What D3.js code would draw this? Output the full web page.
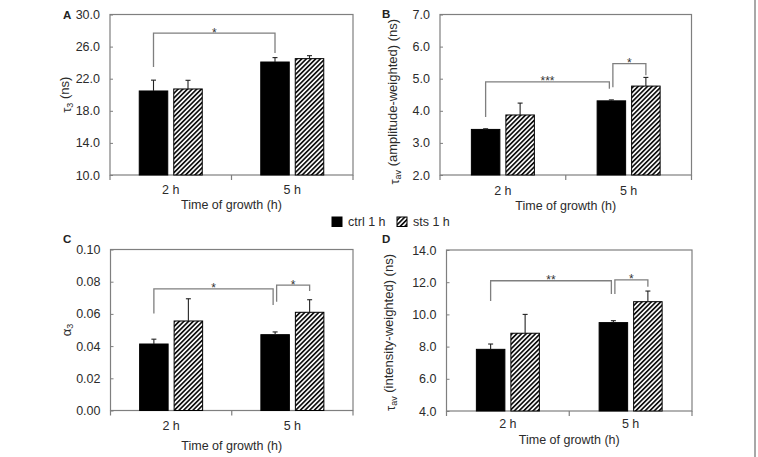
<!DOCTYPE html>
<html>
<head>
<meta charset="utf-8">
<script src="https://cdn.jsdelivr.net/npm/d3@7"></script>
<style>
  html, body { margin: 0; padding: 0; background: #fff; }
  svg { display: block; font-family: "Liberation Sans", Arial, sans-serif; }
</style>
</head>
<body>
<svg id="chart" width="758" height="457"></svg>
<script>
// ---------------- DATA ----------------
const categories = ["2 h", "5 h"];
const seriesNames = ["ctrl 1 h", "sts 1 h"];

// Panel A: tau3 (ns)
const tau3Ctrl = [20.47, 24.08];
const tau3CtrlErr = [1.35, 0.55];
const tau3Sts = [20.72, 24.50];
const tau3StsErr = [1.08, 0.37];
const tau3Ticks = [10, 14, 18, 22, 26, 30];
// [fromCat, fromSeries, toCat, toSeries, leftLegEnd, top, rightLegEnd, label]
const tau3Brackets = [[0, 0, 1, 0, 23.45, 27.68, 25.19, "*"]];

// Panel B: tau_av amplitude-weighted (ns)
const tauAmpCtrl = [3.42, 4.31];
const tauAmpCtrlErr = [0.02, 0.03];
const tauAmpSts = [3.87, 4.77];
const tauAmpStsErr = [0.37, 0.27];
const tauAmpTicks = [2, 3, 4, 5, 6, 7];
const tauAmpBrackets = [[0, 0, 1, 0, 3.81, 4.90, 4.69, "***"], [1, 0, 1, 1, 4.73, 5.47, 5.11, "*"]];

// Panel C: alpha3
const alphaCtrl = [0.0413, 0.0471];
const alphaCtrlErr = [0.0030, 0.0017];
const alphaSts = [0.0556, 0.0610];
const alphaStsErr = [0.0138, 0.0078];
const alphaTicks = [0, 0.02, 0.04, 0.06, 0.08, 0.10];
const alphaBrackets = [[0, 0, 1, 0, 0.0603, 0.0756, 0.0655, "*"], [1, 0, 1, 1, 0.0675, 0.0779, 0.0742, "*"]];

// Panel D: tau_av intensity-weighted (ns)
const tauIntCtrl = [7.83, 9.49];
const tauIntCtrlErr = [0.33, 0.12];
const tauIntSts = [8.83, 10.79];
const tauIntStsErr = [1.17, 0.66];
const tauIntTicks = [4, 6, 8, 10, 12, 14];
const tauIntBrackets = [[0, 0, 1, 0, 10.83, 12.09, 11.27, "**"], [1, 0, 1, 1, 11.27, 12.14, 11.72, "*"]];

const xTitle = "Time of growth (h)";

// ---------------- LAYOUT ----------------
const svg = d3.select("#chart");
const AXIS = "#7f7f7f";
const TEXT = "#2b2b2b";

const defs = svg.append("defs");
const pat = defs.append("pattern")
  .attr("id", "hatch")
  .attr("patternUnits", "userSpaceOnUse")
  .attr("width", 3.3).attr("height", 3.3)
  .attr("patternTransform", "rotate(45)");
pat.append("rect").attr("width", 3.3).attr("height", 3.3).attr("fill", "#fff");
pat.append("rect").attr("x", 0).attr("y", 0).attr("width", 1.7).attr("height", 3.3).attr("fill", "#111");

const panels = [
  { label: "A", ctrl: tau3Ctrl, ctrlErr: tau3CtrlErr, sts: tau3Sts, stsErr: tau3StsErr, ticks: tau3Ticks, brackets: tau3Brackets,
    fmt: ".1f", title: ["τ", "3", " (ns)"],
    x0: 110, x1: 353, y0: 14.5, y1: 175, lx: 63, ly: 19, ytx: 66, yty: 0, tickDy: 19, titleDy: 34 },
  { label: "B", ctrl: tauAmpCtrl, ctrlErr: tauAmpCtrlErr, sts: tauAmpSts, stsErr: tauAmpStsErr, ticks: tauAmpTicks, brackets: tauAmpBrackets,
    fmt: ".1f", title: ["τ", "av", " (amplitude-weighted) (ns)"],
    x0: 440, x1: 691.5, y0: 14.5, y1: 175, lx: 382, ly: 18, ytx: 394, yty: 7, tickDy: 20, titleDy: 35 },
  { label: "C", ctrl: alphaCtrl, ctrlErr: alphaCtrlErr, sts: alphaSts, stsErr: alphaStsErr, ticks: alphaTicks, brackets: alphaBrackets,
    fmt: ".2f", title: ["α", "3", ""],
    x0: 110.5, x1: 353, y0: 249.5, y1: 410.5, lx: 63, ly: 243, ytx: 66, yty: 0, tickDy: 19.5, titleDy: 39.5 },
  { label: "D", ctrl: tauIntCtrl, ctrlErr: tauIntCtrlErr, sts: tauIntSts, stsErr: tauIntStsErr, ticks: tauIntTicks, brackets: tauIntBrackets,
    fmt: ".1f", title: ["τ", "av", " (intensity-weighted) (ns)"],
    x0: 446.5, x1: 692, y0: 250, y1: 411, lx: 382, ly: 243, ytx: 390, yty: 2, tickDy: 17, titleDy: 33 }
];

panels.forEach(p => {
  const g = svg.append("g");
  const x = d3.scaleBand().domain(categories).range([p.x0, p.x1]).padding(0);
  const xi = d3.scaleBand().domain(seriesNames).range([-31.5, 31.5]).paddingInner(6 / 34.5);
  const y = d3.scaleLinear().domain([p.ticks[0], p.ticks[p.ticks.length - 1]]).range([p.y1, p.y0]);

  // y axis with inside ticks
  const ya = g.append("g").attr("transform", `translate(${p.x0},0)`)
    .call(d3.axisLeft(y).tickValues(p.ticks).tickFormat(d3.format(p.fmt)).tickSizeInner(-3).tickSizeOuter(0).tickPadding(10));
  ya.select(".domain").remove();
  ya.selectAll(".tick line").attr("stroke", AXIS);
  ya.selectAll(".tick text").attr("fill", TEXT).attr("font-size", 12.5).attr("font-family", "Liberation Sans, Arial, sans-serif");

  // plot box
  g.append("rect").attr("x", p.x0).attr("y", p.y0).attr("width", p.x1 - p.x0).attr("height", p.y1 - p.y0)
    .attr("fill", "none").attr("stroke", AXIS).attr("stroke-width", 1.2);

  // x ticks at band boundaries
  const bounds = [x(categories[0]), x(categories[1]), x(categories[1]) + x.bandwidth()];
  g.selectAll(".xt").data(bounds).enter().append("line")
    .attr("x1", d => d).attr("x2", d => d).attr("y1", p.y1).attr("y2", p.y1 + 5)
    .attr("stroke", AXIS).attr("stroke-width", 1.2);
  g.selectAll(".xl").data(categories).enter().append("text")
    .attr("x", d => x(d) + x.bandwidth() / 2).attr("y", p.y1 + p.tickDy)
    .attr("text-anchor", "middle").attr("font-size", 12.5).attr("fill", TEXT).text(d => d);
  g.append("text").attr("x", (p.x0 + p.x1) / 2).attr("y", p.y1 + p.titleDy)
    .attr("text-anchor", "middle").attr("font-size", 12.5).attr("fill", TEXT).text(xTitle);

  // y title
  const cy = (p.y0 + p.y1) / 2 + p.yty;
  const yt = g.append("text").attr("transform", `translate(${p.ytx},${cy}) rotate(-90)`)
    .attr("text-anchor", "middle").attr("dy", "0.35em").attr("font-size", 13).attr("fill", TEXT);
  yt.append("tspan").text(p.title[0]);
  yt.append("tspan").attr("dy", "0.3em").attr("font-size", 9).text(p.title[1]);
  yt.append("tspan").attr("dy", "-0.3em").text(p.title[2]);

  // panel label
  g.append("text").attr("x", p.lx).attr("y", p.ly).attr("font-size", 11.5).attr("font-weight", "bold").attr("fill", "#222").text(p.label);

  // bars
  const rows = [];
  categories.forEach((c, ci) => {
    rows.push({ c, ci, s: seriesNames[0], si: 0, v: p.ctrl[ci], e: p.ctrlErr[ci] });
    rows.push({ c, ci, s: seriesNames[1], si: 1, v: p.sts[ci], e: p.stsErr[ci] });
  });
  const cx = r => x(r.c) + x.bandwidth() / 2 + xi(r.s) + xi.bandwidth() / 2;
  g.selectAll(".bar").data(rows).enter().append("rect")
    .attr("x", r => x(r.c) + x.bandwidth() / 2 + xi(r.s))
    .attr("y", r => y(r.v)).attr("width", xi.bandwidth()).attr("height", r => y(p.ticks[0]) - y(r.v))
    .attr("fill", r => r.si === 0 ? "#000" : "url(#hatch)")
    .attr("stroke", "#000").attr("stroke-width", 1);

  // error bars (upper only)
  rows.forEach(r => {
    const xc = cx(r);
    g.append("line").attr("x1", xc).attr("x2", xc).attr("y1", y(r.v)).attr("y2", y(r.v + r.e)).attr("stroke", "#222").attr("stroke-width", 1.1);
    g.append("line").attr("x1", xc - 2.5).attr("x2", xc + 2.5).attr("y1", y(r.v + r.e)).attr("y2", y(r.v + r.e)).attr("stroke", "#222").attr("stroke-width", 1.1);
  });

  // significance brackets
  const shared = p.brackets.length > 1;
  p.brackets.forEach(b => {
    const [fc, fs, tc, ts, yl, ytop, yr, lab] = b;
    let xl = cx({ c: categories[fc], s: seriesNames[fs] });
    let xr = cx({ c: categories[tc], s: seriesNames[ts] });
    if (shared && fc === 1) xl += 1.5;
    if (shared && tc === 1 && ts === 0) xr -= 2;
    const path = d3.path();
    path.moveTo(xl, y(yl)); path.lineTo(xl, y(ytop)); path.lineTo(xr, y(ytop)); path.lineTo(xr, y(yr));
    g.append("path").attr("d", path.toString()).attr("fill", "none").attr("stroke", AXIS).attr("stroke-width", 1.3);
    g.append("text").attr("x", (xl + xr) / 2).attr("y", y(ytop) + 3.5).attr("text-anchor", "middle")
      .attr("font-size", 12).attr("fill", "#333").text(lab);
  });
});

// legend
const legend = svg.append("g");
seriesNames.forEach((s, i) => {
  const lx = i === 0 ? 332 : 397;
  legend.append("rect").attr("x", lx).attr("y", 217).attr("width", 10).attr("height", 9.5)
    .attr("fill", i === 0 ? "#000" : "url(#hatch)").attr("stroke", "#000").attr("stroke-width", 1);
  legend.append("text").attr("x", lx + 16).attr("y", 226).attr("font-size", 12.5).attr("fill", TEXT).text(s);
});

// right frame line
svg.append("line").attr("x1", 755).attr("x2", 755).attr("y1", 0).attr("y2", 457).attr("stroke", "#a8a8a8").attr("stroke-width", 2);
</script>
</body>
</html>
